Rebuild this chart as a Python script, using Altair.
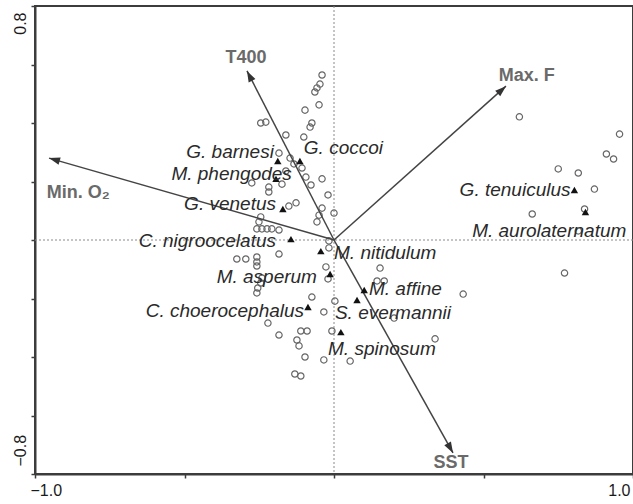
import altair as alt
import pandas as pd

# ---- site scores (open circles) ----
site_x = [-0.040, -0.047, -0.057, -0.064, -0.050, -0.097, -0.074, -0.080, -0.245, -0.228,
          -0.161, -0.101, -0.184, -0.147, -0.134, -0.107, -0.094, -0.077, -0.040, -0.174,
          -0.275, -0.218, -0.218, -0.020, -0.151, -0.127, -0.040, -0.050, 0.000, -0.057,
          -0.245, -0.258, -0.241, -0.224, -0.208, -0.184, -0.251, -0.017, -0.017, -0.184,
          -0.325, -0.295, -0.258, -0.258, -0.258, -0.027, -0.241, -0.245, -0.255, -0.258,
          -0.074, 0.003, -0.034, -0.221, -0.184, -0.111, -0.090, -0.124, -0.117, -0.097,
          -0.034, -0.131, -0.111, -0.007, 0.054, 0.154, 0.144, 0.168, 0.201, 0.338,
          0.432, 0.771, 0.620, 0.955, 0.911, 0.935, 0.750, 0.817, 0.871, 0.663,
          0.838, 0.817, -0.020, -0.161]
site_y = [0.564, 0.533, 0.520, 0.506, 0.462, 0.444, 0.400, 0.386, 0.400, 0.403,
          0.359, 0.352, 0.297, 0.280, 0.260, 0.246, 0.215, 0.188, 0.209, 0.191,
          0.195, 0.181, 0.164, 0.154, 0.116, 0.127, 0.109, 0.085, 0.092, 0.062,
          0.079, 0.038, 0.038, 0.038, 0.038, 0.034, 0.062, -0.003, -0.027, -0.048,
          -0.065, -0.065, -0.058, -0.075, -0.089, -0.092, -0.130, -0.147, -0.164, -0.181,
          -0.195, -0.209, -0.246, -0.284, -0.325, -0.311, -0.311, -0.342, -0.362, -0.400,
          -0.410, -0.458, -0.465, -0.311, -0.414, -0.096, -0.140, -0.140, -0.267, -0.338,
          -0.185, -0.113, 0.421, 0.362, 0.294, 0.277, 0.243, 0.229, 0.174, 0.089,
          0.106, 0.031, -0.133, 0.236]

# ---- species scores (filled triangles) ----
species = ["G. barnesi", "G. coccoi", "M. phengodes", "G. venetus", "C. nigroocelatus",
           "M. nitidulum", "M. asperum", "M. affine", "S. evermannii", "M. spinosum",
           "C. choerocephalus", "G. tenuiculus", "M. aurolaternatum"]
sp_x = [-0.188, -0.114, -0.194, -0.171, -0.144, -0.044, -0.013, 0.101, 0.077, 0.023,
        -0.087, 0.804, 0.841]
sp_y = [0.270, 0.270, 0.209, 0.106, 0.003, -0.038, -0.116, -0.171, -0.205, -0.315,
        -0.229, 0.171, 0.096]
# label anchor positions and alignment
lab_x = [-0.201, -0.101, -0.141, -0.194, -0.194, 0.000, -0.057, 0.117, 0.003, -0.020,
         -0.100, 0.791, 0.462]
lab_y = [0.301, 0.315, 0.226, 0.123, -0.003, -0.044, -0.126, -0.168, -0.250, -0.373,
         -0.243, 0.171, 0.031]
lab_align = ["right", "left", "right", "right", "right", "left", "right", "left", "left",
             "left", "right", "right", "left"]

# ---- environmental vectors ----
env = ["T400", "Max. F", "Min. O\u2082", "SST"]
env_x = [-0.291, 0.575, -0.953, 0.398]
env_y = [0.578, 0.526, 0.280, -0.728]
env_lx = [-0.294, 0.645, -0.855, 0.391]
env_ly = [0.622, 0.561, 0.161, -0.762]

x_ticks = [-1.0, -0.5, 0.0, 0.5, 1.0]
y_ticks = [-0.8, -0.6, -0.4, -0.2, 0.0, 0.2, 0.4, 0.6, 0.8]

W, H = 598, 468
FONT = "Liberation Sans"
AX = "#3c3c3c"

sites = pd.DataFrame({"x": site_x, "y": site_y})
spdf = pd.DataFrame({"x": sp_x, "y": sp_y, "name": species, "lx": lab_x, "ly": lab_y,
                     "align": lab_align})
envdf = pd.DataFrame({"x": env_x, "y": env_y, "name": env, "lx": env_lx, "ly": env_ly,
                      "x0": [0.0] * 4, "y0": [0.0] * 4})
zero = pd.DataFrame({"v": [0.0]})

XS = alt.Scale(domain=[-1, 1], nice=False, zero=False)
YS = alt.Scale(domain=[-0.8, 0.8], nice=False, zero=False)
XA = alt.Axis(values=x_ticks, grid=False, title=None, tickSize=4, tickWidth=1.5,
              tickColor=AX, domainColor=AX, domainWidth=2, labelFontSize=16,
              labelFont=FONT, labelColor="#1a1a1a", labelPadding=4, labelOverlap=False,
              labelExpr="datum.value <= -0.99 ? '\u22121.0' : datum.value >= 0.99 ? '1.0' : ''",
              labelAlign={"condition": {"test": "datum.value < 0", "value": "left"},
                          "value": "right"},
              labelOffset={"condition": {"test": "datum.value < 0", "value": -5},
                           "value": -3})
YA = alt.Axis(values=y_ticks, grid=False, title=None, tickSize=4, tickWidth=1.5,
              tickColor=AX, domainColor=AX, domainWidth=2, labelFontSize=16,
              labelFont=FONT, labelColor="#1a1a1a", labelPadding=3, labelOverlap=False,
              labelAngle=270, labelBaseline="bottom",
              labelExpr="datum.value >= 0.79 ? '0.8' : datum.value <= -0.79 ? '\u22120.8' : ''",
              labelAlign={"condition": {"test": "datum.value > 0", "value": "right"},
                          "value": "left"},
              labelOffset={"condition": {"test": "datum.value > 0", "value": 6},
                           "value": -8})


def X(f):
    return alt.X(f, type="quantitative", scale=XS, axis=XA)


def Y(f):
    return alt.Y(f, type="quantitative", scale=YS, axis=YA)


vline = alt.Chart(zero).mark_rule(color="#8a8a8a", strokeDash=[2, 2], strokeWidth=1).encode(
    x=X("v"))
hline = alt.Chart(zero).mark_rule(color="#8a8a8a", strokeDash=[2, 2], strokeWidth=1).encode(
    y=Y("v"))

circles = alt.Chart(sites).mark_point(shape="circle", filled=False, color="#666666",
                                      size=40, strokeWidth=1.2, opacity=1).encode(
    x=X("x"), y=Y("y"))

arrows = alt.Chart(envdf).mark_rule(color="#444444", strokeWidth=1.5).encode(
    x=X("x0"), y=Y("y0"), x2="x", y2="y")

heads = alt.Chart(envdf).transform_calculate(
    ang=f"(atan2(datum.x * {W / 2}, datum.y * {H / 1.6}) * 180 / PI + 360) % 360"
).mark_point(shape="M0,0L-0.38,1.1L0.38,1.1Z", filled=True, color="#333333", size=400,
             opacity=1, strokeWidth=0).encode(
    x=X("x"), y=Y("y"), angle=alt.Angle("ang:Q", scale=None))

env_labels = alt.Chart(envdf).mark_text(font=FONT, fontSize=18, fontWeight="bold",
                                        color="#6a6a6a", align="center",
                                        baseline="middle").encode(
    x=X("lx"), y=Y("ly"), text="name:N")

tri = alt.Chart(spdf).mark_point(shape="triangle-up", filled=True, color="#111111",
                                 size=55, opacity=1).encode(x=X("x"), y=Y("y"))

lab_r = alt.Chart(spdf).transform_filter("datum.align == 'right'").mark_text(
    font=FONT, fontSize=19, fontStyle="italic", color="#2a2a2a", align="right",
    baseline="middle").encode(x=X("lx"), y=Y("ly"), text="name:N")
lab_l = alt.Chart(spdf).transform_filter("datum.align == 'left'").mark_text(
    font=FONT, fontSize=19, fontStyle="italic", color="#2a2a2a", align="left",
    baseline="middle").encode(x=X("lx"), y=Y("ly"), text="name:N")

chart = alt.layer(vline, hline, circles, arrows, heads, env_labels, tri, lab_r, lab_l).properties(
    width=W, height=H,
    autosize=alt.AutoSizeParams(type="none"),
    padding={"left": 35, "top": 6, "right": 0, "bottom": 30},
    background="white",
).configure_view(stroke=AX, strokeWidth=2)

chart.save("out.html", embed_options={"renderer": "svg", "actions": False})
